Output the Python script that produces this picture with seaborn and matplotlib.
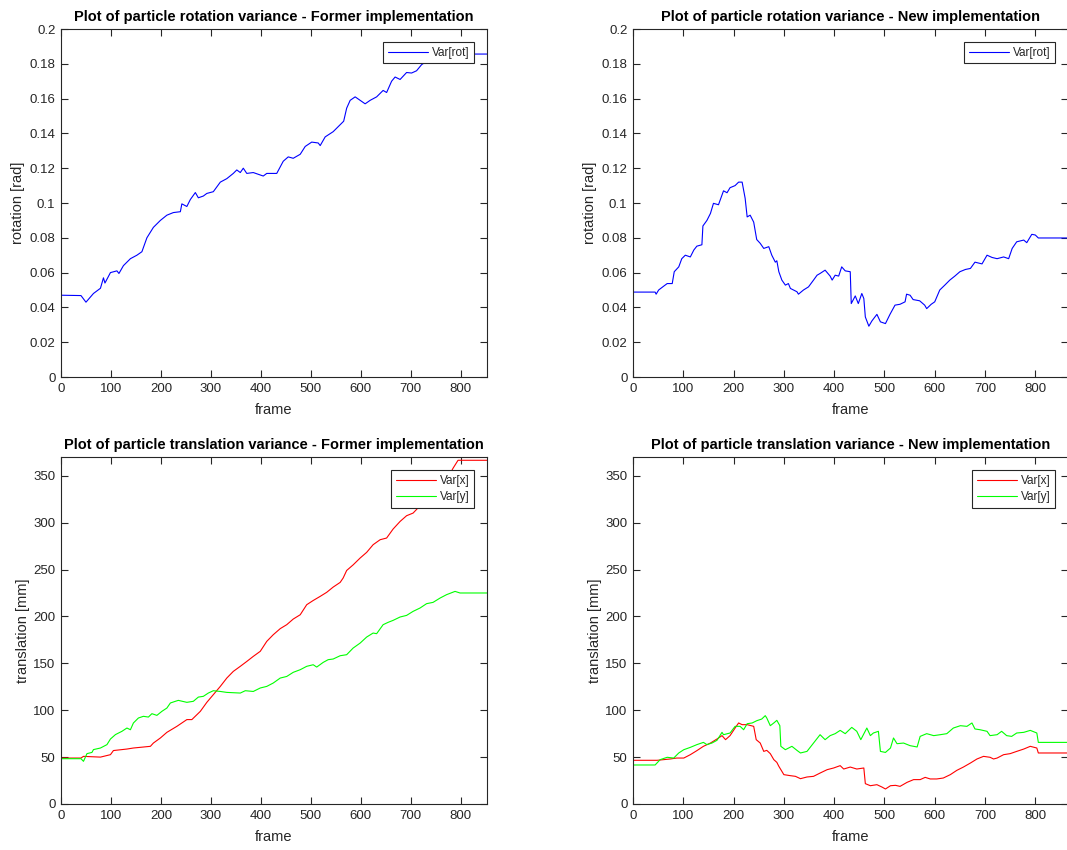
import numpy as np
import pandas as pd
import seaborn as sns
import matplotlib.pyplot as plt
from matplotlib.ticker import FormatStrFormatter

# rotation variance, former implementation (frame, rad)
rot_old_f = [0, 40, 50, 65, 79, 85, 88, 99, 112, 116, 125, 139, 152, 162, 172, 185, 199, 212, 225, 239,
             242, 252, 259, 269, 275, 285, 292, 305, 319, 332, 345, 352, 359, 365, 372, 385, 405, 412,
             432, 445, 455, 465, 479, 489, 502, 515, 519, 529, 545, 559, 566, 572, 579, 589, 599, 609,
             619, 632, 645, 652, 662, 669, 679, 692, 702, 712, 722, 732, 750, 770, 792, 853]
rot_old_v = [0.047, 0.0468, 0.043, 0.048, 0.051, 0.057, 0.054, 0.060, 0.061, 0.0595, 0.064, 0.068, 0.070,
             0.072, 0.080, 0.086, 0.090, 0.093, 0.0945, 0.095, 0.0995, 0.098, 0.102, 0.106, 0.103, 0.104,
             0.1055, 0.1065, 0.112, 0.114, 0.117, 0.119, 0.1175, 0.120, 0.117, 0.1175, 0.1155, 0.117,
             0.117, 0.124, 0.1265, 0.1257, 0.128, 0.1325, 0.135, 0.1345, 0.133, 0.138, 0.141, 0.145,
             0.147, 0.1545, 0.159, 0.161, 0.159, 0.157, 0.159, 0.161, 0.1647, 0.1635, 0.170, 0.1724,
             0.171, 0.175, 0.1747, 0.176, 0.1795, 0.1814, 0.1825, 0.184, 0.1856, 0.1856]

# rotation variance, new implementation
rot_new_f = [0, 44, 46, 51, 61, 68, 78, 82, 91, 97, 104, 114, 121, 127, 137, 139, 147, 154, 160, 170,
             180, 187, 193, 203, 210, 217, 223, 227, 233, 240, 246, 253, 260, 270, 276, 283, 286, 290,
             296, 303, 309, 313, 326, 329, 339, 349, 359, 366, 372, 382, 392, 396, 402, 409, 415, 422,
             432, 434, 442, 448, 455, 459, 462, 469, 475, 485, 492, 502, 511, 521, 531, 541, 544, 551,
             557, 570, 580, 584, 593, 600, 610, 620, 630, 640, 650, 661, 671, 680, 694, 704, 714, 724,
             737, 747, 754, 763, 777, 783, 793, 800, 806, 865]
rot_new_v = [0.0488, 0.0488, 0.0476, 0.050, 0.0522, 0.0537, 0.0537, 0.0605, 0.0633, 0.068, 0.070, 0.069,
             0.073, 0.0752, 0.076, 0.0868, 0.090, 0.094, 0.0998, 0.099, 0.107, 0.1059, 0.1088, 0.110,
             0.112, 0.112, 0.1027, 0.092, 0.093, 0.089, 0.079, 0.0768, 0.0739, 0.0749, 0.070, 0.066,
             0.0668, 0.0605, 0.0557, 0.0528, 0.0537, 0.0509, 0.049, 0.0476, 0.050, 0.0518, 0.0557,
             0.0585, 0.0595, 0.0614, 0.058, 0.0557, 0.0585, 0.058, 0.0633, 0.061, 0.0605, 0.0422,
             0.0466, 0.0422, 0.048, 0.0451, 0.0345, 0.0292, 0.0322, 0.036, 0.0317, 0.0307, 0.036,
             0.0413, 0.0418, 0.0432, 0.0476, 0.047, 0.0445, 0.0438, 0.0413, 0.0393, 0.0418, 0.0432,
             0.050, 0.0528, 0.0557, 0.058, 0.0605, 0.0618, 0.0624, 0.066, 0.065, 0.070, 0.0687, 0.068,
             0.069, 0.068, 0.0739, 0.0777, 0.0787, 0.0772, 0.082, 0.0816, 0.0799, 0.0799]

# translation variance, former implementation (frame, mm)
tr_old_f = [0, 40, 45, 79, 99, 105, 132, 145, 179, 185, 199, 212, 232, 252, 262, 279, 292, 305, 319,
            332, 345, 359, 372, 385, 399, 412, 425, 439, 452, 465, 479, 492, 505, 519, 532, 545, 559,
            565, 572, 585, 599, 612, 625, 639, 652, 665, 679, 692, 705, 719, 735, 752, 772, 785, 795, 853]
tr_old_x = [49, 49, 50.8, 50, 52.6, 57, 58.6, 59.7, 61.5, 65, 70.4, 76.4, 82.8, 90, 90, 98.8, 108.4,
            116.6, 125.4, 134.3, 141.4, 146.8, 152, 157.4, 162.8, 173.4, 180.5, 187, 191.2, 197.2,
            201.8, 212.5, 217, 221.4, 225.7, 231.3, 236.3, 241, 249, 255, 262.3, 268.3, 276.5, 281.8,
            283.6, 293.2, 301.3, 307.4, 310.2, 318, 323, 330, 345, 358, 366.5, 366.5]
tr_old_yf = [0, 40, 45, 52, 62, 65, 79, 92, 99, 109, 122, 132, 139, 145, 155, 165, 175, 182, 192, 202,
             212, 219, 229, 235, 252, 265, 275, 285, 295, 305, 319, 332, 359, 369, 385, 399, 412, 425,
             439, 452, 465, 479, 492, 505, 512, 525, 535, 545, 559, 572, 585, 599, 612, 625, 632, 645,
             655, 665, 679, 692, 705, 719, 732, 745, 759, 772, 789, 799, 853]
tr_old_y = [48.3, 48.3, 45.5, 53.7, 55, 58, 59.7, 63.3, 69.3, 74, 77.5, 81, 79.2, 86.4, 91.7, 93.5,
            92.7, 96.3, 94.5, 98.8, 102.3, 107.7, 109.5, 110.5, 108.4, 109.5, 114, 114.8, 118.3, 120.8,
            120, 119, 118.3, 120.8, 120, 123.7, 125.4, 129, 134.3, 136, 140.4, 143.2, 146.8, 148.5,
            146, 151, 153.9, 154.6, 158.1, 159.2, 166.3, 171.6, 178, 182.3, 181.6, 191.2, 193.7,
            195.8, 199.4, 201.1, 205.4, 209, 213.6, 215, 219.6, 223.2, 226.7, 225, 225]

# translation variance, new implementation
tr_new_xf = [0, 48, 74, 87, 101, 114, 127, 140, 154, 167, 177, 184, 193, 203, 210, 217, 227, 240, 245,
             253, 260, 266, 273, 280, 286, 290, 300, 313, 323, 333, 346, 359, 372, 386, 399, 412, 419,
             432, 445, 459, 462, 472, 485, 495, 502, 512, 522, 531, 545, 558, 571, 581, 591, 604, 617,
             631, 644, 657, 671, 684, 697, 710, 717, 724, 737, 750, 763, 777, 790, 803, 806, 865]
tr_new_x = [46.6, 46.6, 48, 49, 49, 52.6, 56.9, 61.5, 65, 69.3, 72.9, 68.6, 72.9, 81, 86.4, 84.6, 84.6,
            82.8, 68.6, 65, 56.1, 57.2, 53.7, 47.3, 44.4, 40.2, 31.3, 30.2, 29.5, 27, 28.8, 29.5, 33,
            36.6, 38.4, 40.9, 37.3, 39.4, 37.3, 38.4, 21.7, 19.5, 20.6, 18.1, 16, 19.5, 19.9, 18.8,
            23.1, 26, 26, 28.4, 26.7, 26.7, 27.7, 31.3, 35.9, 39.4, 43.7, 48, 50.8, 49.8, 48, 49, 52.6,
            53.7, 56.1, 58.6, 61.5, 59.7, 54.4, 54.4]
tr_new_yf = [0, 44, 54, 68, 81, 91, 101, 114, 127, 140, 147, 157, 167, 177, 180, 193, 203, 213, 220,
             227, 237, 246, 256, 263, 266, 273, 280, 286, 292, 294, 303, 316, 326, 333, 346, 359, 372,
             382, 392, 402, 412, 422, 435, 445, 453, 465, 472, 478, 488, 492, 502, 512, 518, 525, 538,
             551, 565, 571, 584, 598, 611, 624, 637, 651, 664, 674, 680, 690, 704, 710, 724, 733, 743,
             753, 763, 777, 790, 803, 806, 865]
tr_new_y = [41.6, 41.6, 47.3, 49.8, 49, 54.4, 57.9, 60.4, 63.3, 65.7, 63.3, 65, 67.9, 76.4, 73.9, 75.7,
            82.8, 82.8, 79.2, 85.6, 86.4, 88.8, 90.6, 94.2, 91.7, 83.5, 86.4, 89.2, 83.5, 61.5, 57.9,
            61.5, 57.2, 54.4, 56.1, 65, 73.9, 68.6, 72.9, 75, 78.5, 75, 81.7, 77.5, 68.6, 81, 72.9,
            75.7, 77.5, 56.1, 55, 59.7, 70.4, 64.3, 65, 62.2, 60.8, 72.1, 75, 72.9, 73.9, 75, 81, 83.5,
            82.8, 86.4, 80, 79.2, 77.5, 72.9, 73.9, 77.5, 72.9, 72.1, 75.7, 76.4, 78.5, 75.7, 65.7, 65.7]

sns.set_theme(style="white")
plt.rcParams['font.family'] = ['Liberation Sans', 'DejaVu Sans']
plt.rcParams['axes.edgecolor'] = '#262626'
plt.rcParams['axes.linewidth'] = 0.8
plt.rcParams['xtick.color'] = '#262626'
plt.rcParams['ytick.color'] = '#262626'

fig = plt.figure(figsize=(10.67, 8.5), dpi=100)
W, H = 1067.0, 850.0
def place(x0, x1, y0, y1):
    return fig.add_axes([x0 / W, 1 - y1 / H, (x1 - x0) / W, (y1 - y0) / H])

ax1 = place(61, 487, 29, 377)
ax2 = place(633, 1068, 29, 377)
ax3 = place(61, 487, 457, 804)
ax4 = place(633, 1068, 457, 804)

def draw(ax, series, title, ylabel, ylim, yticks, yfmt, xmax, ypad):
    for f, v, col, lab in series:
        df = pd.DataFrame({'frame': f, 'val': v})
        sns.lineplot(data=df, x='frame', y='val', ax=ax, color=col, label=lab,
                     linewidth=0.8, estimator=None)
    ax.set_xlim(0, xmax)
    ax.set_ylim(*ylim)
    ax.set_xticks(np.arange(0, 801, 100))
    ax.set_yticks(yticks)
    ax.yaxis.set_major_formatter(FormatStrFormatter(yfmt))
    ax.tick_params(direction='in', length=5, width=0.8, labelsize=9.5, top=True, right=True,
                   bottom=True, left=True, pad=4)
    ax.set_title(title, fontsize=10.5, fontweight='bold', color='black', pad=6)
    ax.set_xlabel('frame', fontsize=10.5, color='#262626', labelpad=6)
    ax.set_ylabel(ylabel, fontsize=10.5, color='#262626', labelpad=ypad)
    leg = ax.legend(loc='upper right', fontsize=8.5, fancybox=False, framealpha=1,
                    edgecolor='#262626', handlelength=3.4, borderaxespad=1.1,
                    borderpad=0.4, labelspacing=0.35, handletextpad=0.3)
    leg.get_frame().set_linewidth(0.8)
    for sp in ax.spines.values():
        sp.set_visible(True)

rot_ticks = np.arange(0, 0.201, 0.02)
tr_ticks = np.arange(0, 351, 50)

draw(ax1, [(rot_old_f, rot_old_v, (0, 0, 1), 'Var[rot]')],
     'Plot of particle rotation variance - Former implementation', 'rotation [rad]',
     (0, 0.2), rot_ticks, '%g', 853, 3)
draw(ax2, [(rot_new_f, rot_new_v, (0, 0, 1), 'Var[rot]')],
     'Plot of particle rotation variance - New implementation', 'rotation [rad]',
     (0, 0.2), rot_ticks, '%g', 865, 3)
draw(ax3, [(tr_old_f, tr_old_x, (1, 0, 0), 'Var[x]'), (tr_old_yf, tr_old_y, (0, 1, 0), 'Var[y]')],
     'Plot of particle translation variance - Former implementation', 'translation [mm]',
     (0, 370), tr_ticks, '%g', 853, 2)
draw(ax4, [(tr_new_xf, tr_new_x, (1, 0, 0), 'Var[x]'), (tr_new_yf, tr_new_y, (0, 1, 0), 'Var[y]')],
     'Plot of particle translation variance - New implementation', 'translation [mm]',
     (0, 370), tr_ticks, '%g', 865, 2)

fig.savefig('out.png', dpi=100, facecolor='white')
